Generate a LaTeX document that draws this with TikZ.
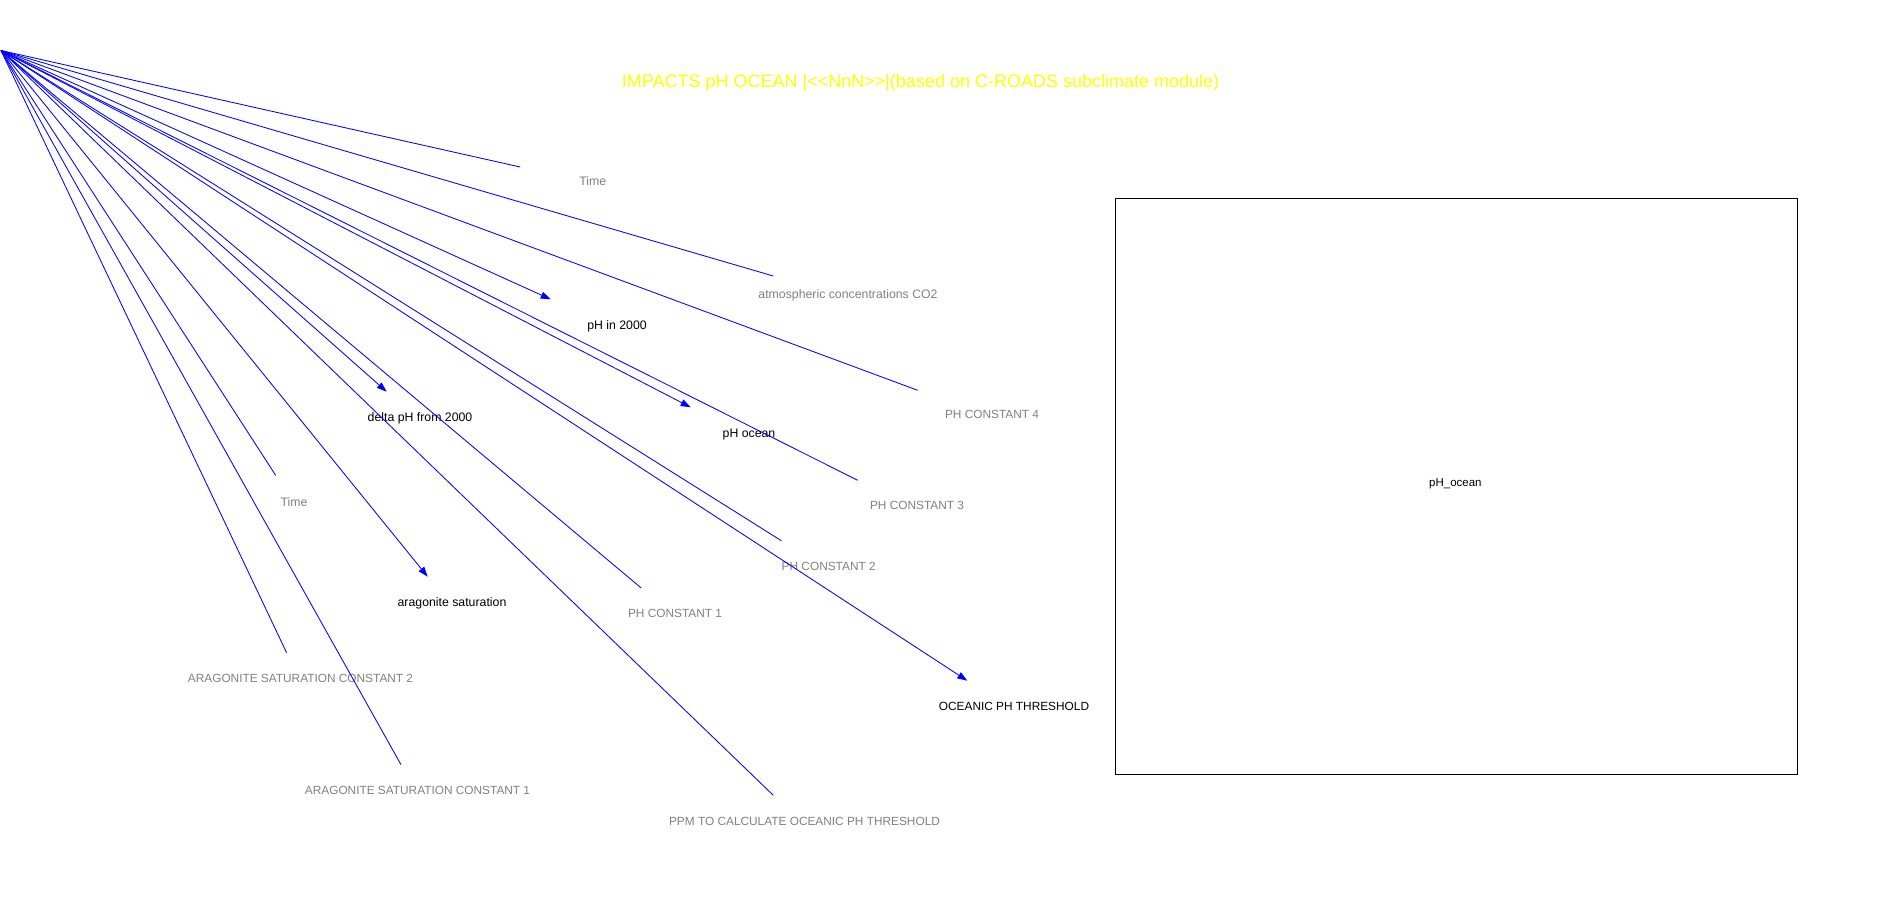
\documentclass[tikz,border=0pt]{standalone}
\usepackage{fontspec}
\setmainfont{Liberation Sans}
\usetikzlibrary{arrows.meta}
\definecolor{lblgray}{RGB}{128,128,128}
\definecolor{ttlyellow}{RGB}{255,255,0}
\definecolor{linkblue}{RGB}{0,0,255}
\tikzset{
  lbl/.style={inner sep=0pt, anchor=center, text height=0.716em, text depth=0pt, font=\fontsize{12.3}{14}\selectfont},
  caps/.style={font=\fontsize{11.85}{14}\selectfont},
  auxlbl/.style={lbl, text=lblgray},
  varlbl/.style={lbl, text=black},
  link/.style={draw=linkblue, line width=0.85pt},
  arrowlink/.style={link, -{Triangle[length=10pt,width=7pt]}},
}
\begin{document}
\begin{tikzpicture}[x=1pt,y=-1pt]
\useasboundingbox (0,0) rectangle (1897,905);
% title
\node[inner sep=0pt, text height=0.716em, text depth=0pt, text=ttlyellow, font=\fontsize{18}{20}\selectfont] (title) at (920.5,84) {IMPACTS pH OCEAN |<\kern0pt<NnN>\kern0pt>|(based on C-ROADS subclimate module)};
% graph box
\node[draw=black, line width=1.2pt, minimum width=682.4pt, minimum height=575.9pt, inner sep=0pt] (graph) at (1456.6,486.4) {};
\node[varlbl, font=\fontsize{11.5}{13}\selectfont] (graphlbl) at (1455.4,482.5) {pH\_ocean};
% source
\coordinate (src) at (1,50.5);
% labels
\node[auxlbl] (time1) at (592.8,182) {Time};
\node[auxlbl] (atmco2) at (848,294.5) {atmospheric concentrations CO2};
\node[varlbl] (ph2000) at (617,325.5) {pH in 2000};
\node[auxlbl, caps] (phc4) at (992,415) {PH CONSTANT 4};
\node[varlbl] (phocean) at (749,434) {pH ocean};
\node[auxlbl, caps] (phc3) at (917,506) {PH CONSTANT 3};
\node[varlbl] (deltaph) at (420,418) {delta pH from 2000};
\node[auxlbl, caps] (phc2) at (828.7,566.5) {PH CONSTANT 2};
\node[varlbl, caps] (threshold) at (1014,706.5) {OCEANIC PH THRESHOLD};
\node[auxlbl, caps] (phc1) at (675,613.5) {PH CONSTANT 1};
\node[auxlbl] (time2) at (294,502.5) {Time};
\node[varlbl] (arag) at (452,603) {aragonite saturation};
\node[auxlbl, caps] (aragc2) at (300.5,679) {ARAGONITE SATURATION CONSTANT 2};
\node[auxlbl, caps] (aragc1) at (417.5,791) {ARAGONITE SATURATION CONSTANT 1};
\node[auxlbl, caps] (ppm) at (804.5,822) {PPM TO CALCULATE OCEANIC PH THRESHOLD};
% connector ends
\coordinate (e1) at (520.2,167);
\coordinate (e2) at (773.3,276);
\coordinate (e3) at (550.7,299.3);
\coordinate (e4) at (917.7,390.3);
\coordinate (e5) at (690.7,407.3);
\coordinate (e6) at (857.7,480.3);
\coordinate (e7) at (386.7,391.7);
\coordinate (e8) at (781.5,540.8);
\coordinate (e9) at (967.3,680.7);
\coordinate (e10) at (641.2,588);
\coordinate (e11) at (275.8,475.5);
\coordinate (e12) at (427.7,576.7);
\coordinate (e13) at (286.6,652.7);
\coordinate (e14) at (401,764.7);
\coordinate (e15) at (773.3,795.3);
% connectors
\draw[link] (src) -- (e1);
\draw[link] (src) -- (e2);
\draw[arrowlink] (src) -- (e3);
\draw[link] (src) -- (e4);
\draw[arrowlink] (src) -- (e5);
\draw[link] (src) -- (e6);
\draw[arrowlink] (src) -- (e7);
\draw[link] (src) -- (e8);
\draw[arrowlink] (src) -- (e9);
\draw[link] (src) -- (e10);
\draw[link] (src) -- (e11);
\draw[arrowlink] (src) -- (e12);
\draw[link] (src) -- (e13);
\draw[link] (src) -- (e14);
\draw[link] (src) -- (e15);
\end{tikzpicture}
\end{document}
